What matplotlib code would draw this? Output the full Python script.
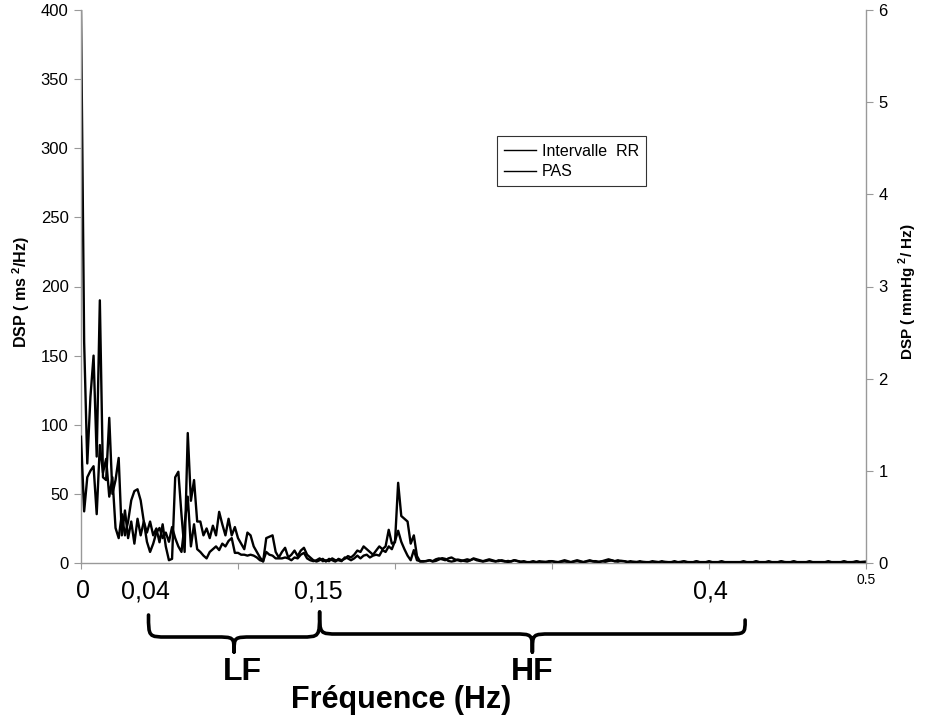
import numpy as np
import matplotlib
matplotlib.use("Agg")
import matplotlib.pyplot as plt
from matplotlib.path import Path
from matplotlib.patches import PathPatch
from matplotlib.transforms import blended_transform_factory

plt.rcParams['font.family'] = ['Liberation Sans', 'DejaVu Sans']
plt.rcParams['mathtext.fontset'] = 'custom'
plt.rcParams['mathtext.rm'] = 'Liberation Sans'
plt.rcParams['mathtext.bf'] = 'Liberation Sans:bold'

# ---------------- data ----------------
freq_step = 0.002  # Hz

# RR interval PSD (ms^2/Hz), left axis
rr_psd = [400, 160, 72, 120, 150, 77, 190, 62, 60, 105,
          50, 60, 76, 20, 38, 18, 30, 14, 32, 20,
          30, 22, 30, 20, 25, 15, 28, 12, 2, 3,
          62, 66, 35, 8, 94, 45, 60, 30, 30, 20,
          25, 18, 27, 20, 37, 28, 20, 32, 20, 26,
          18, 14, 10, 22, 20, 12, 8, 4, 1, 18,
          19, 20, 8, 4, 8, 11, 4, 6, 9, 5,
          9, 11, 6, 4, 2, 1, 2, 3, 1, 3,
          2, 1, 3, 2, 3, 5, 4, 6, 9, 8,
          12, 10, 8, 6, 9, 12, 10, 12, 24, 14,
          15, 58, 34, 32, 30, 14, 20, 5, 1, 1,
          1.5, 2, 1, 1.5, 2.5, 3.5, 3, 1.5, 1, 1.5,
          2.5, 2, 1.5, 1, 2, 3, 2, 1.5, 1, 1.5,
          2, 1.5, 1, 2, 1.5, 1, 1.5, 1, 2, 1.5,
          1, 0.8, 0.5, 0.6, 0.8, 0.5, 0.7, 1, 0.8, 0.6,
          1.2, 0.9, 0.6, 0.8, 1.1, 0.7, 0.5, 0.9, 1.3, 0.8,
          0.6, 1, 1.4, 1.1, 0.7, 0.9, 1.2, 0.8, 1.5, 1.8,
          1.2, 0.9, 1.6, 1.3, 0.8, 0.6, 0.9, 0.7, 0.5, 0.8,
          0.6, 0.4, 0.7, 0.9, 0.6, 0.5, 0.8, 0.6, 0.4, 0.7,
          0.5, 0.8, 1, 0.7, 0.5, 0.6, 0.9, 0.6, 0.4, 0.5,
          0.7, 0.5, 0.4, 0.6, 0.8, 0.5, 0.4, 0.6, 0.5, 0.3,
          0.5, 0.7, 0.4, 0.6, 0.5, 0.8, 0.6, 0.4, 0.5, 0.7,
          0.5, 0.4, 0.6, 0.9, 0.7, 0.5, 0.6, 0.8, 0.5, 0.4,
          0.6, 0.5, 0.7, 0.4, 0.5, 0.6, 0.4, 0.5, 0.7, 0.5,
          0.4, 0.6, 0.5, 0.8, 0.6, 0.5, 0.7, 0.9, 0.6, 0.8, 1.0]

# Systolic blood pressure PSD (mmHg^2/Hz), right axis
pas_psd = [1.37, 0.56, 0.93, 1.0, 1.05, 0.53, 1.28, 0.98, 1.13, 0.72,
           0.93, 0.38, 0.27, 0.53, 0.30, 0.45, 0.68, 0.78, 0.80, 0.68,
           0.45, 0.23, 0.12, 0.21, 0.33, 0.38, 0.27, 0.33, 0.23, 0.39,
           0.27, 0.18, 0.12, 0.42, 0.72, 0.18, 0.42, 0.15, 0.12, 0.08,
           0.05, 0.12, 0.15, 0.18, 0.14, 0.21, 0.18, 0.24, 0.27, 0.11,
           0.11, 0.09, 0.09, 0.08, 0.09, 0.08, 0.06, 0.03, 0.02, 0.12,
           0.09, 0.08, 0.05, 0.05, 0.05, 0.06, 0.05, 0.03, 0.06, 0.05,
           0.09, 0.11, 0.05, 0.03, 0.02, 0.03, 0.05, 0.02, 0.03, 0.02,
           0.05, 0.03, 0.03, 0.02, 0.06, 0.05, 0.03, 0.05, 0.08, 0.05,
           0.08, 0.09, 0.06, 0.08, 0.09, 0.08, 0.14, 0.12, 0.18, 0.15,
           0.24, 0.35, 0.23, 0.15, 0.08, 0.03, 0.14, 0.03, 0.02, 0.02,
           0.02, 0.03, 0.02, 0.04, 0.05, 0.04, 0.03, 0.05, 0.06, 0.04,
           0.03, 0.02, 0.03, 0.04, 0.03, 0.05, 0.04, 0.03, 0.02, 0.03,
           0.04, 0.03, 0.02, 0.02, 0.03, 0.02, 0.01, 0.02, 0.03, 0.02,
           0.01, 0.02, 0.01, 0.01, 0.02, 0.01, 0.02, 0.01, 0.01, 0.02,
           0.02, 0.01, 0.01, 0.02, 0.03, 0.02, 0.01, 0.02, 0.03, 0.02,
           0.01, 0.02, 0.03, 0.02, 0.02, 0.01, 0.02, 0.03, 0.04, 0.03,
           0.02, 0.03, 0.02, 0.02, 0.01, 0.02, 0.01, 0.01, 0.02, 0.01,
           0.01, 0.01, 0.02, 0.01, 0.01, 0.02, 0.01, 0.01, 0.01, 0.02,
           0.01, 0.01, 0.02, 0.01, 0.01, 0.01, 0.02, 0.01, 0.01, 0.01,
           0.02, 0.01, 0.01, 0.01, 0.02, 0.01, 0.01, 0.01, 0.01, 0.01,
           0.01, 0.02, 0.01, 0.01, 0.01, 0.02, 0.01, 0.01, 0.01, 0.02,
           0.01, 0.01, 0.01, 0.02, 0.01, 0.01, 0.01, 0.02, 0.01, 0.01,
           0.01, 0.01, 0.02, 0.01, 0.01, 0.01, 0.01, 0.01, 0.02, 0.01,
           0.01, 0.01, 0.01, 0.02, 0.01, 0.01, 0.01, 0.02, 0.01, 0.01, 0.01]

series_labels = ["Intervalle  RR", "PAS"]
left_ticks = [0, 50, 100, 150, 200, 250, 300, 350, 400]
right_ticks = [0, 1, 2, 3, 4, 5, 6]
x_ticks = [0, 0.1, 0.2, 0.3, 0.4, 0.5]
x_tick_labels = ["", "", "", "", "", "0.5"]
band_marks = [(0.0, "0"), (0.04, "0,04"), (0.15, "0,15"), (0.4, "0,4")]
bands = [("LF", 0.043, 0.152), ("HF", 0.152, 0.423)]

# ---------------- figure ----------------
W, H = 926, 722
fig = plt.figure(figsize=(W / 100, H / 100), dpi=100)
ax = fig.add_axes([81 / W, 1 - 563 / H, (866 - 81) / W, (563 - 10) / H])
ax2 = ax.twinx()

f_rr = np.arange(len(rr_psd)) * freq_step
f_pas = np.arange(len(pas_psd)) * freq_step
l1, = ax.plot(f_rr, rr_psd, color='black', lw=1.7, label=series_labels[0])
l2, = ax2.plot(f_pas, pas_psd, color='black', lw=1.7, label=series_labels[1])

ax.set_xlim(0, 0.5)
ax.set_ylim(0, 400)
ax2.set_ylim(0, 6)

grey = '#999999'
for a in (ax, ax2):
    a.spines['top'].set_visible(False)
    for s in ('left', 'right', 'bottom'):
        a.spines[s].set_color(grey)
        a.spines[s].set_linewidth(1.0)
ax.spines['right'].set_visible(False)
ax2.spines['left'].set_visible(False)
ax2.spines['bottom'].set_visible(False)

ax.set_yticks(left_ticks)
ax.tick_params(axis='y', direction='out', length=5, color=grey, labelsize=12, pad=4)
ax2.set_yticks(right_ticks)
ax2.tick_params(axis='y', direction='out', length=5, color=grey, labelsize=12, pad=4)
ax.set_xticks(x_ticks)
ax.set_xticklabels(x_tick_labels)
ax.tick_params(axis='x', direction='out', length=4, color=grey, labelsize=10, pad=3)

ax.set_ylabel(r'DSP ( ms $^{\mathbf{2}}$/Hz)', fontsize=11.5, fontweight='bold')
ax.yaxis.set_label_coords((32 - 81) / 785, 0.49)
ax2.set_ylabel(r'DSP ( mmHg $^{\mathbf{2}}$/ Hz)', fontsize=11, fontweight='bold',
               rotation=90)
ax2.yaxis.set_label_coords((897 - 81) / 785, 0.49)

leg = ax2.legend(handles=[l1, l2], loc='upper left', bbox_to_anchor=(0.52, 0.786),
                 fontsize=11.5, frameon=True, fancybox=False, edgecolor='black',
                 handlelength=2.0, handletextpad=0.35, borderpad=0.45, labelspacing=0.35)
leg.get_frame().set_linewidth(0.8)
for h in leg.get_lines():
    h.set_linewidth(1.0)

# ---------------- annotations below the axis ----------------
tr = blended_transform_factory(ax.transData, fig.transFigure)
for xv, txt in band_marks:
    fig.text(xv + 0.001, 1 - 591 / H, txt, transform=tr,
             ha='center', va='center', fontsize=18)


def brace(x0, x1, ytop0, ytop1, ymid, ybot, q):
    xm = 0.5 * (x0 + x1)
    verts = [(x0, ytop0),
             (x0, ymid), (x0, ymid), (x0 + q, ymid),
             (xm - q, ymid),
             (xm, ymid), (xm, ymid), (xm, ybot),
             (xm, ymid), (xm, ymid), (xm + q, ymid),
             (x1 - q, ymid),
             (x1, ymid), (x1, ymid), (x1, ytop1)]
    codes = [Path.MOVETO,
             Path.CURVE4, Path.CURVE4, Path.CURVE4,
             Path.LINETO,
             Path.CURVE4, Path.CURVE4, Path.CURVE4,
             Path.CURVE4, Path.CURVE4, Path.CURVE4,
             Path.LINETO,
             Path.CURVE4, Path.CURVE4, Path.CURVE4]
    return Path(verts, codes)


brace_y = {"LF": (1 - 615 / H, 1 - 612 / H, 1 - 637 / H), "HF": (1 - 612 / H, 1 - 620 / H, 1 - 634 / H)}
label_dx = {"LF": 0.005, "HF": 0.0}
label_y = 1 - 672 / H
for name, x0, x1 in bands:
    yt0, yt1, ym = brace_y[name]
    p = brace(x0, x1, yt0, yt1, ym, 1 - 652 / H, 0.012)
    fig.add_artist(PathPatch(p, transform=tr, facecolor='none', edgecolor='black',
                             lw=2.6, capstyle='round', joinstyle='round'))
    fig.text(0.5 * (x0 + x1) + label_dx[name], label_y, name, transform=tr,
             ha='center', va='center', fontsize=23, fontweight='bold')

fig.text(401 / W, 1 - 700 / H, 'Fréquence (Hz)', ha='center', va='center',
         fontsize=22, fontweight='bold')

fig.savefig('out.png', dpi=100)
